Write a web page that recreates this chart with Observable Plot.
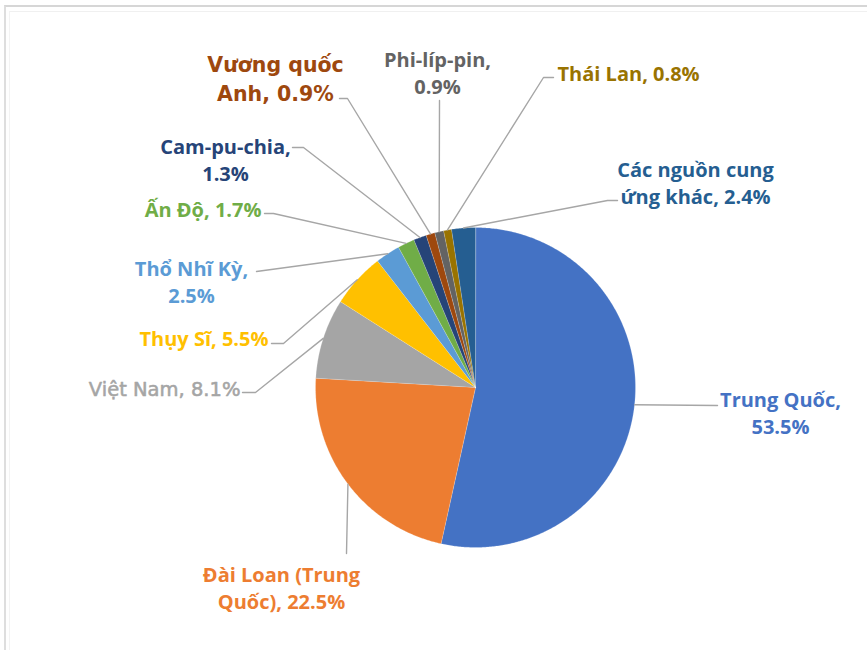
<!DOCTYPE html>
<html>
<head>
<meta charset="utf-8">
<script src="https://cdn.jsdelivr.net/npm/d3@7"></script>
<script src="https://cdn.jsdelivr.net/npm/@observablehq/plot@0.6"></script>
<style>
  html, body { margin: 0; padding: 0; background: #fff; }
  #wrap { position: relative; width: 867px; height: 650px; overflow: hidden; }
  #frame { position: absolute; left: 4px; top: 5px; width: 900px; height: 700px;
           border-top: 2px solid #d6d6d6; border-left: 2px solid #dedede; }
  #frame2 { position: absolute; left: 9px; top: 11px; width: 900px; height: 700px;
           border-top: 1px solid #f0f0f0; border-left: 1px solid #f3f3f3; }
  #chart { position: absolute; left: 0; top: 0; }
</style>
</head>
<body>
<div id="wrap"><div id="frame"></div><div id="frame2"></div><div id="chart"></div></div>
<script>
// ---- data ----
const names = ["Trung Quốc", "Đài Loan (Trung Quốc)", "Việt Nam", "Thụy Sĩ", "Thổ Nhĩ Kỳ",
  "Ấn Độ", "Cam-pu-chia", "Vương quốc Anh", "Phi-líp-pin", "Thái Lan", "Các nguồn cung ứng khác"];
const shares = [53.5, 22.5, 8.1, 5.5, 2.5, 1.7, 1.3, 0.9, 0.9, 0.8, 2.4];
const colors = ["#4472C4", "#ED7D31", "#A5A5A5", "#FFC000", "#5B9BD5", "#70AD47",
  "#264478", "#9E480E", "#636363", "#997300", "#255E91"];

// ---- layout (pixels of the 867x650 page) ----
const CX = 475, CY = 387, R = 160;
const SANS = "'Open Sans', 'Noto Sans', sans-serif";
const VERD = "'DejaVu Sans', sans-serif";
const layout = [
  {brk: "Trung Quốc,", anchor: "middle", tx: 780, ty: 411, end: [717, 405], elbow: null},
  {brk: "Đài Loan (Trung", anchor: "middle", tx: 281, ty: 586, end: [346, 553], elbow: null},
  {brk: null, anchor: "end", tx: 240, ty: 387, end: [242, 392], elbow: [255, 392],
   font: VERD, size: 19.5, weight: "normal", thick: 0.55},
  {brk: null, anchor: "end", tx: 268, ty: 337, end: [271, 343], elbow: [283, 343]},
  {brk: "Thổ Nhĩ Kỳ,", anchor: "middle", tx: 191, ty: 280, end: [256, 271], elbow: null},
  {brk: null, anchor: "end", tx: 261, ty: 208, end: [264, 213], elbow: [273, 213]},
  {brk: "Cam-pu-chia,", anchor: "middle", tx: 225, ty: 158, end: [292, 147], elbow: [303, 147]},
  {brk: "Vương quốc", anchor: "middle", tx: 275, ty: 77, end: [339, 98], elbow: [347, 98],
   font: VERD, size: 20.5, weight: "bold", lh: 1.42},
  {brk: "Phi-líp-pin,", anchor: "middle", tx: 437, ty: 71, end: [439, 100], elbow: null},
  {brk: null, anchor: "start", tx: 557, ty: 72, end: [553, 77], elbow: [543, 77]},
  {brk: "Các nguồn cung", anchor: "middle", tx: 695, ty: 181, end: [617, 200], elbow: [607, 200]}
];

const W = 867, H = 650;
const px = p => (p - CX) / R;          // page x -> chart units
const py = p => (CY - p) / R;          // page y -> chart units

// slices
const total = d3.sum(shares);
let acc = 0;
const slices = names.map((name, i) => {
  const a0 = acc / total * 2 * Math.PI;
  acc += shares[i];
  const a1 = acc / total * 2 * Math.PI;
  return {name, share: shares[i], color: colors[i], a0, a1, mid: (a0 + a1) / 2};
});

const slicePts = [];
for (const s of slices) {
  slicePts.push({name: s.name, color: s.color, x: 0, y: 0});
  const n = Math.max(2, Math.ceil((s.a1 - s.a0) / (Math.PI / 360)));
  for (let k = 0; k <= n; k++) {
    const a = s.a0 + (s.a1 - s.a0) * k / n;
    slicePts.push({name: s.name, color: s.color, x: Math.sin(a), y: Math.cos(a)});
  }
}

// leader lines
const leaderPts = [];
slices.forEach((s, i) => {
  const L = layout[i];
  leaderPts.push({name: s.name, x: Math.sin(s.mid), y: Math.cos(s.mid)});
  if (L.elbow) leaderPts.push({name: s.name, x: px(L.elbow[0]), y: py(L.elbow[1])});
  leaderPts.push({name: s.name, x: px(L.end[0]), y: py(L.end[1])});
});

// labels
const labels = slices.map((s, i) => {
  const L = layout[i];
  let t = `${s.name}, ${s.share.toFixed(1)}%`;
  if (L.brk) t = L.brk + "\n" + t.slice(L.brk.length).trimStart();
  return {text: t, color: s.color, x: px(L.tx), y: py(L.ty), L};
});

const textMarks = labels.map(d => Plot.text([d], {
  x: "x", y: "y", text: "text", fill: "color",
  ...(d.L.thick ? {stroke: "color", strokeWidth: d.L.thick} : {}),
  fontSize: d.L.size || 20, fontWeight: d.L.weight || "bold",
  fontFamily: d.L.font || SANS, lineHeight: d.L.lh || 1.35,
  lineAnchor: "middle", textAnchor: d.L.anchor
}));

const chart = Plot.plot({
  width: W, height: H, margin: 0,
  style: {background: "transparent", overflow: "visible"},
  x: {domain: [px(0), px(W)], range: [0, W], axis: null},
  y: {domain: [py(H), py(0)], range: [H, 0], axis: null},
  color: {type: "identity"},
  marks: [
    Plot.line(slicePts, {x: "x", y: "y", z: "name", fill: "color", stroke: "#ffffff",
      strokeWidth: 0.4, strokeOpacity: 0.5, curve: "linear-closed"}),
    Plot.line(leaderPts, {x: "x", y: "y", z: "name", stroke: "#a6a6a6", strokeWidth: 1.4}),
    ...textMarks
  ]
});
document.getElementById("chart").appendChild(chart);
</script>
</body>
</html>
